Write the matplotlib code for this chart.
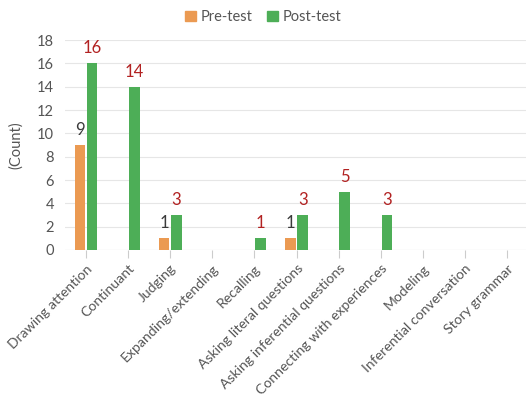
import numpy as np
import matplotlib.pyplot as plt
from matplotlib.patches import Patch

categories = ['Drawing attention', 'Continuant', 'Judging', 'Expanding/extending',
              'Recalling', 'Asking literal questions', 'Asking inferential questions',
              'Connecting with experiences', 'Modeling', 'Inferential conversation',
              'Story grammar']
pre_test = [9, 0, 1, 0, 0, 1, 0, 0, 0, 0, 0]
post_test = [16, 14, 3, 0, 1, 3, 5, 3, 0, 0, 0]

pre_color = '#EB9A52'
post_color = '#4DAE57'

plt.rcParams['font.family'] = ['Lato', 'DejaVu Sans']

fig = plt.figure(figsize=(5.26, 3.96), dpi=100)
ax = fig.add_axes([65 / 526, 1 - 250 / 396, 461 / 526, 210 / 396])

x = np.arange(len(categories))
w = 0.25
off = 0.145
for i, (p, q) in enumerate(zip(pre_test, post_test)):
    if p > 0:
        ax.bar(x[i] - off, p, width=w, color=pre_color, zorder=3)
        ax.text(x[i] - off, p + 0.6, str(p), ha='center', va='bottom',
                fontsize=12, color='#3a3a3a')
    if q > 0:
        ax.bar(x[i] + off, q, width=w, color=post_color, zorder=3)
        ax.text(x[i] + off, q + 0.6, str(q), ha='center', va='bottom',
                fontsize=12, color='#B22222')

ax.set_xlim(-0.5, 10.45)
ax.set_ylim(0, 18)
ax.set_yticks(range(0, 19, 2))
ax.yaxis.grid(True, color='#e6e6e6', linewidth=0.8, zorder=0)
ax.tick_params(axis='y', length=0, labelsize=10.5, colors='#555555', pad=8)
ax.set_xticks(x)
ax.set_xticklabels(categories, rotation=45, ha='right', rotation_mode='anchor',
                   fontsize=10.1, color='#555555')
ax.tick_params(axis='x', length=6, color='#cccccc', width=0.8, pad=3)
for s in ax.spines.values():
    s.set_visible(False)
ax.axhline(0, color='#d9d9d9', linewidth=0.8, zorder=2)

ax.set_ylabel('(Count)', fontsize=10.5, color='#555555', labelpad=10)

handles = [Patch(color=pre_color, label='Pre-test'),
           Patch(color=post_color, label='Post-test')]
fig.legend(handles=handles, loc='center', bbox_to_anchor=(0.5, 1 - 17 / 396),
           ncol=2, frameon=False, fontsize=10.5, handlelength=0.75, handleheight=0.75,
           handletextpad=0.3, columnspacing=1.0, labelcolor='#555555')

fig.savefig('out.png', dpi=100)
